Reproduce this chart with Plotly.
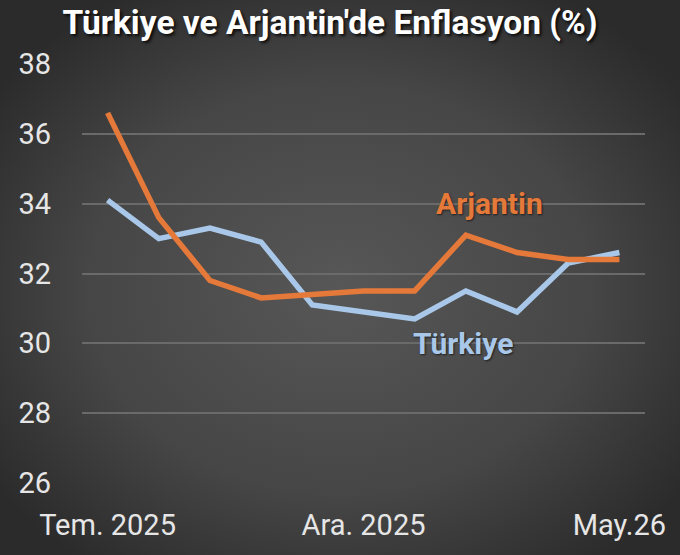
import base64

import plotly.graph_objects as go

# Data (monthly, Tem. 2025 .. May.26)
months = ["Tem. 2025", "Ağu. 2025", "Eyl. 2025", "Eki. 2025", "Kas. 2025", "Ara. 2025",
          "Oca. 2026", "Şub. 2026", "Mar. 2026", "Nis. 2026", "May.26"]
arjantin = [36.6, 33.6, 31.8, 31.3, 31.4, 31.5, 31.5, 33.1, 32.6, 32.4, 32.4]
turkiye = [34.1, 33.0, 33.3, 32.9, 31.1, 30.9, 30.7, 31.5, 30.9, 32.3, 32.6]
shown_ticks = ["Tem. 2025", "Ara. 2025", "May.26"]
y_ticks = [26, 28, 30, 32, 34, 36, 38]

ORANGE = "#E5793A"
BLUE = "#A9C8E9"
FONT = "Roboto, sans-serif"

# radial gradient background as an svg image
bg_svg = """<svg xmlns='http://www.w3.org/2000/svg' width='680' height='555'>
<defs><radialGradient id='g' cx='50%' cy='52%' r='62%'>
<stop offset='0%' stop-color='#575757'/><stop offset='60%' stop-color='#464646'/>
<stop offset='100%' stop-color='#2b2b2b'/></radialGradient></defs>
<rect width='680' height='555' fill='url(#g)'/></svg>"""
bg_src = "data:image/svg+xml;base64," + base64.b64encode(bg_svg.encode()).decode()

fig = go.Figure()
fig.add_trace(go.Scatter(x=months, y=turkiye, mode="lines", name="Türkiye",
                         line=dict(color=BLUE, width=5.5)))
fig.add_trace(go.Scatter(x=months, y=arjantin, mode="lines", name="Arjantin",
                         line=dict(color=ORANGE, width=5.5)))

fig.add_annotation(x="Şub. 2026", y=34.0, text="<b>Arjantin</b>", showarrow=False,
                   xshift=24, font=dict(family=FONT, size=30, color=ORANGE,
                                        shadow="1px 1px 2px rgba(0,0,0,0.6)"))
fig.add_annotation(x="Şub. 2026", y=30.0, text="<b>Türkiye</b>", showarrow=False,
                   xshift=-3, font=dict(family=FONT, size=30, color=BLUE,
                                        shadow="1px 1px 2px rgba(0,0,0,0.6)"))

fig.update_layout(
    width=680, height=555,
    margin=dict(l=82, r=35, t=64, b=72),
    paper_bgcolor="#3c3c3c",
    plot_bgcolor="rgba(0,0,0,0)",
    showlegend=False,
    title=dict(text="<b>Türkiye ve Arjantin'de Enflasyon (%)</b>",
               x=330 / 680, xanchor="center", xref="container",
               y=1 - 22 / 555, yanchor="middle", yref="container",
               font=dict(family=FONT, size=33.5, color="white",
                         shadow="2px 2px 3px rgba(0,0,0,0.8)")),
    images=[dict(source=bg_src, xref="paper", yref="paper", x=-82 / 563, y=1 + 64 / 419,
                 sizex=680 / 563, sizey=555 / 419, xanchor="left", yanchor="top",
                 sizing="stretch", layer="below")],
    xaxis=dict(type="category", range=[-0.5, 10.5], tickvals=shown_ticks, ticktext=shown_ticks,
               showgrid=False, zeroline=False, showline=False, ticks="",
               ticklabelstandoff=22,
               tickfont=dict(family=FONT, size=29, color="#e6e6e6")),
    yaxis=dict(range=[26, 38], tickvals=y_ticks, showgrid=True, gridcolor="#6a6a6a",
               gridwidth=1.5, zeroline=False, showline=False, ticks="",
               ticklabelstandoff=30,
               tickfont=dict(family=FONT, size=29, color="#e6e6e6")),
)

fig.write_html("out.html", config={"displayModeBar": False},
               post_script="document.body.style.margin='0';")
